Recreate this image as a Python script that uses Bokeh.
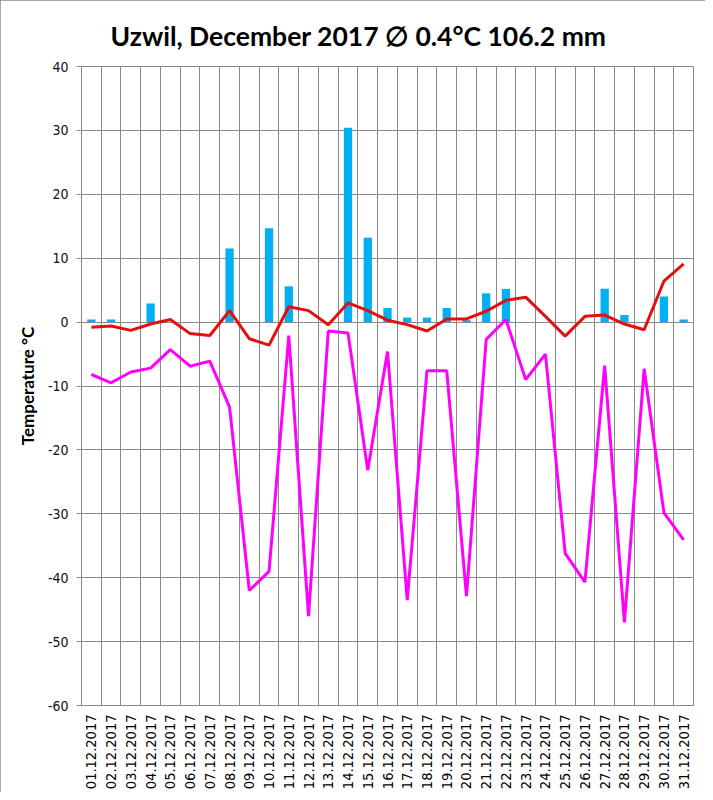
from bokeh.plotting import figure
from bokeh.models import Range1d, FixedTicker, ColumnDataSource
from bokeh.embed import file_html
from bokeh.resources import INLINE
import math

days = list(range(1, 32))
date_labels = ["%02d.12.2017" % d for d in days]

precip = [0.4, 0.4, 0.0, 2.9, 0.0, 0.0, 0.0, 11.5, 0.0, 14.7, 5.6, 0.0, 0.0, 30.4, 13.2,
          2.2, 0.7, 0.7, 2.2, 0.3, 4.5, 5.2, 0.0, 0.0, 0.0, 0.0, 5.2, 1.1, 0.0, 4.0, 0.4]

t_mean = [-0.8, -0.6, -1.3, -0.3, 0.4, -1.8, -2.1, 1.8, -2.6, -3.6, 2.4, 1.8, -0.4, 3.0, 1.8,
          0.3, -0.4, -1.4, 0.5, 0.5, 1.7, 3.4, 3.9, 0.9, -2.2, 0.9, 1.1, -0.3, -1.2, 6.4, 9.1]

t_other = [-8.2, -9.5, -7.8, -7.2, -4.3, -6.9, -6.1, -13.3, -42.0, -39.0, -2.1, -46.0, -1.4, -1.7, -23.2,
           -4.6, -43.5, -7.6, -7.6, -42.9, -2.7, 0.4, -9.0, -5.0, -36.2, -40.7, -6.8, -47.0, -7.3, -29.8, -34.1]

y_ticks = [40, 30, 20, 10, 0, -10, -20, -30, -40, -50, -60]
y_tick_labels = ["40", "30", "20", "10", "0", "-10", "-20", "-30", "-40", "-50", "-60"]
title_text = "Uzwil, December 2017 \u2205 0.4\u00b0C 106.2 mm"
y_label = "Temperature \u00b0C"

src = ColumnDataSource(dict(day=days, precip=precip, t_mean=t_mean, t_other=t_other))

GRID = "#8a8a8a"

p = figure(width=705, height=792, output_backend="svg", toolbar_location=None,
           x_range=Range1d(0.5, 31.5), y_range=Range1d(-60, 40),
           min_border_left=81, min_border_right=12, min_border_top=66, min_border_bottom=87)
p.styles = {"outline": "1px solid #8a8a8a", "outline-offset": "-1px"}

p.vbar(x="day", top="precip", bottom=0, width=0.42, source=src,
       fill_color="#00B0F0", line_color=None)
p.line(x="day", y="t_other", source=src, line_color="#FF00FF", line_width=3)
p.line(x="day", y="t_mean", source=src, line_color="#E31010", line_width=3)

# grid
p.xgrid.ticker = FixedTicker(ticks=[d + 0.5 for d in range(0, 32)])
p.xgrid.grid_line_color = GRID
p.xgrid.grid_line_width = 1
p.ygrid.ticker = FixedTicker(ticks=y_ticks)
p.ygrid.grid_line_color = GRID
p.ygrid.grid_line_width = 1
p.outline_line_color = GRID

# x axis
p.xaxis.ticker = FixedTicker(ticks=days)
p.xaxis.major_label_overrides = {d: lab for d, lab in zip(days, date_labels)}
p.xaxis.major_label_orientation = math.pi / 2
p.xaxis.major_tick_line_color = None
p.xaxis.minor_tick_line_color = None
p.xaxis.major_tick_out = 0
p.xaxis.major_label_standoff = 9
p.xaxis.axis_line_color = GRID
p.xaxis.major_label_text_font = "DejaVu Sans Condensed"
p.xaxis.major_label_text_font_size = "14.5px"
p.xaxis.major_label_text_color = "#000000"

# y axis
p.yaxis.ticker = FixedTicker(ticks=y_ticks)
p.yaxis.major_label_overrides = {t: s for t, s in zip(y_ticks, y_tick_labels)}
p.yaxis.axis_line_color = GRID
p.yaxis.major_tick_line_color = GRID
p.yaxis.major_tick_out = 5
p.yaxis.major_tick_in = 0
p.yaxis.minor_tick_line_color = None
p.yaxis.major_label_standoff = 8
p.yaxis.major_label_text_font = "DejaVu Sans Condensed"
p.yaxis.major_label_text_font_size = "14px"
p.yaxis.major_label_text_color = "#111111"
p.yaxis.axis_label = y_label
p.yaxis.axis_label_text_font = "Lato"
p.yaxis.axis_label_text_font_style = "bold"
p.yaxis.axis_label_text_font_size = "17px"
p.yaxis.axis_label_text_color = "#000000"
p.yaxis.axis_label_standoff = 7

p.title.text = title_text
p.title.align = "left"
p.title.offset = 29
p.title.standoff = 29
p.title.text_font = "Lato"
p.title.text_font_style = "bold"
p.title.text_font_size = "26.5px"
p.title.text_color = "#000000"

open("out.html", "w").write(file_html(p, INLINE))
